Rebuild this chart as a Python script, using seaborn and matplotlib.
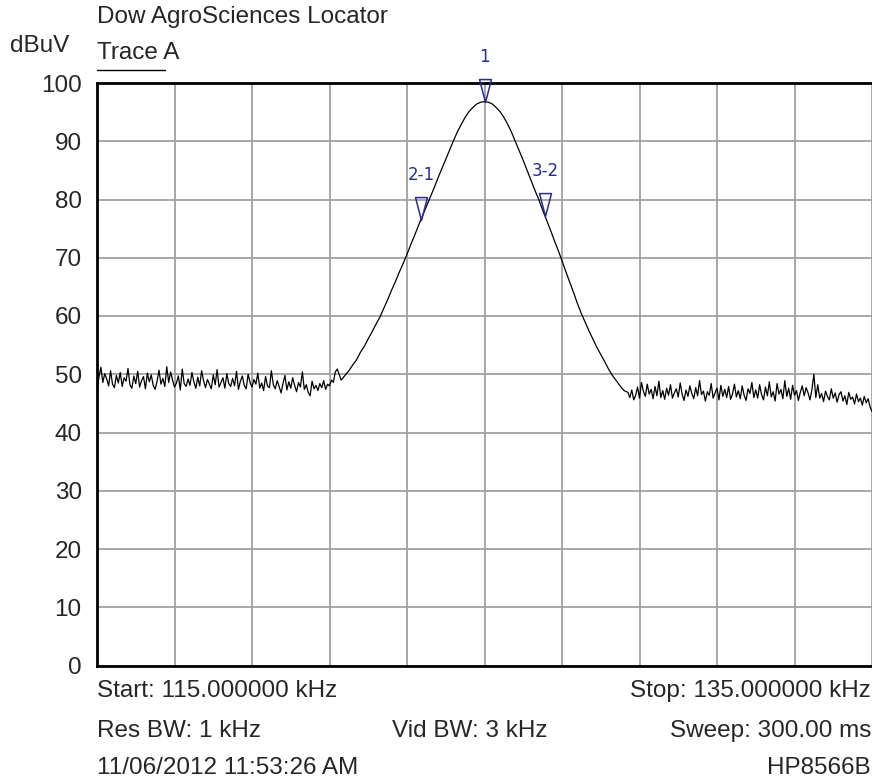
import numpy as np
import matplotlib
matplotlib.use("Agg")
import matplotlib.pyplot as plt
from matplotlib.lines import Line2D
from matplotlib.path import Path
import seaborn as sns

# sweep settings: the floors were read at 0.05 kHz, the peak at 0.1 kHz
seg_start = [115.0, 121.3, 128.7]
seg_stop = [121.2, 128.6, 135.0]

# trace A, dBuV
floor_left = [
    47.0, 49.5, 51.2, 48.6, 50.1, 49.2, 48.0, 50.6, 48.3, 47.7,
    49.8, 48.5, 50.3, 47.9, 49.4, 48.8, 51.0, 48.2, 47.6, 49.7,
    48.4, 50.5, 47.8, 48.9, 49.6, 47.5, 50.2, 48.7, 49.9, 48.1,
    47.4, 48.8, 50.7, 48.3, 49.3, 47.9, 51.3, 48.6, 50.4, 49.0,
    47.8, 48.5, 49.7, 47.3, 50.9, 48.4, 47.9, 49.2, 48.1, 50.3,
    48.7, 47.6, 49.5, 48.0, 50.6, 48.9, 47.7, 49.1, 48.3, 47.5,
    49.9, 48.2, 50.8, 47.8, 48.6, 49.4, 47.6, 50.1, 48.4, 47.9,
    49.3, 48.0, 50.5, 47.4, 48.8, 49.7, 48.1, 47.5, 50.0, 48.6,
    47.8, 49.1, 48.3, 50.2, 47.6, 48.5, 47.2, 49.6, 48.0, 47.7,
    50.6, 48.2, 47.5, 48.9, 47.9, 46.8, 48.4, 49.8, 47.3, 48.7,
    47.6, 49.4, 48.1, 47.0, 48.6, 47.8, 50.4, 47.4, 48.2, 46.9,
    46.3, 48.8, 47.5, 48.1, 47.2, 48.4, 47.7, 48.9, 47.4, 48.3,
    48.0, 49.0, 48.6, 50.4, 50.9,
]
peak = [
    49.0, 49.8, 50.6, 51.6, 52.5, 53.8, 54.8, 56.1, 57.3, 58.6,
    59.8, 61.3, 62.8, 64.4, 65.9, 67.5, 69.0, 70.6, 72.3, 73.9,
    75.6, 77.2, 78.8, 80.4, 82.0, 83.7, 85.3, 86.9, 88.5, 90.1,
    91.6, 92.9, 94.1, 95.1, 95.8, 96.4, 96.7, 96.8,
    96.7, 96.4, 95.8, 95.1, 94.1, 92.9, 91.5, 89.9, 88.3, 86.7,
    85.0, 83.3, 81.6, 80.0, 78.2, 76.5, 74.8, 73.0, 71.3, 69.5,
    67.6, 65.8, 64.0, 62.1, 60.4, 58.9, 57.4, 56.0, 54.6, 53.4,
    52.2, 50.9, 49.8, 48.9, 48.0, 47.2,
]
floor_right = [
    46.9, 46.0, 47.3, 45.6, 46.4, 47.8, 45.9, 48.6, 47.1, 46.2,
    48.3, 46.6, 47.4, 45.8, 47.9, 46.3, 48.8, 46.0, 47.2, 45.7,
    47.6, 46.4, 48.2, 45.9, 46.8, 47.5, 46.1, 48.5, 46.6, 45.5,
    47.3, 46.2, 48.0, 46.7, 45.8, 47.7, 46.3, 48.9, 46.5, 47.1,
    45.4, 47.0, 46.4, 48.4, 45.9, 46.8, 47.6, 45.6, 48.1, 46.2,
    47.4, 46.0, 47.9, 45.7, 46.6, 48.3, 46.1, 47.2, 45.8, 48.0,
    46.4, 45.5, 47.5, 46.7, 48.6, 46.0, 47.3, 45.9, 48.2, 46.5,
    45.6, 47.8, 46.3, 48.7, 46.1, 47.0, 45.4, 48.4, 46.6, 47.4,
    45.8, 48.9, 46.2, 47.6, 45.7, 48.1, 46.4, 47.2, 45.5, 46.9,
    48.0, 46.3, 47.7, 46.8, 45.6, 47.4, 50.0, 46.0, 48.2, 45.9,
    46.7, 45.3, 47.1, 46.2, 45.6, 47.5, 45.9, 46.8, 45.2, 46.5,
    47.0, 45.4, 46.3, 44.8, 46.9, 45.7, 46.1, 44.9, 46.6, 45.3,
    45.9, 44.7, 46.2, 45.1, 45.8, 44.4, 43.6,
]

marker_khz = [125.0, 123.36, 126.56]
marker_labels = ["1", "2-1", "3-2"]

segments = [floor_left, peak, floor_right]
freq = np.concatenate([np.linspace(a, b, len(s))
                       for a, b, s in zip(seg_start, seg_stop, segments)])
level = np.concatenate([np.array(s) for s in segments])

sns.set_style("white")
plt.rcParams["font.family"] = ["Liberation Sans", "DejaVu Sans"]
plt.rcParams["font.size"] = 17.5

fig = plt.figure(figsize=(8.72, 7.78), dpi=100)
ax = fig.add_axes([97 / 872, 112.5 / 778, 1 - 97 / 872, 582.5 / 778])

sns.lineplot(x=freq, y=level, ax=ax, color="black", lw=0.9)

ax.set_xlim(seg_start[0], seg_stop[-1])
ax.set_ylim(0, 100)
ax.set_xticks(np.arange(seg_start[0], seg_stop[-1] + 0.1, 2))
ax.set_yticks(np.arange(0, 101, 10))
ax.set_xticklabels([])
ax.grid(True, color="#a0a0a0", lw=1.3)
ax.tick_params(axis="both", length=0)
ax.tick_params(axis="y", pad=11, labelsize=17.5)
for side in ["left", "top", "bottom"]:
    ax.spines[side].set_color("black")
    ax.spines[side].set_linewidth(2)
ax.spines["right"].set_visible(False)

# marker triangles, tip on the trace
tri = Path([(0, 0), (-0.26, 1), (0.26, 1), (0, 0)],
           [Path.MOVETO, Path.LINETO, Path.LINETO, Path.CLOSEPOLY])
blue = "#2a2a96"
marker_lvl = np.interp(marker_khz, freq, level)
ax.plot(marker_khz, marker_lvl, ls="none", marker=tri, markersize=33,
        markerfacecolor="none", markeredgecolor=blue, markeredgewidth=1.1,
        clip_on=False, zorder=5)
for fx, fy, lab in zip(marker_khz, marker_lvl, marker_labels):
    ax.annotate(lab, (fx, fy), xytext=(0, 32), textcoords="offset points",
                ha="center", va="center", color=blue, fontsize=12,
                family=["Liberation Sans Narrow", "DejaVu Sans"],
                annotation_clip=False)

fig.text(97 / 872, 1 - 17 / 778, "Dow AgroSciences Locator", ha="left", va="center")
fig.text(10 / 872, 1 - 46 / 778, "dBuV", ha="left", va="center")
fig.text(97 / 872, 1 - 53 / 778, "Trace A", ha="left", va="center")
fig.add_artist(Line2D([97 / 872, 165 / 872], [1 - 70 / 778, 1 - 70 / 778],
                      color="black", lw=1))

fig.text(97 / 872, 1 - 691 / 778, "Start: 115.000000 kHz", ha="left", va="center")
fig.text(871 / 872, 1 - 691 / 778, "Stop: 135.000000 kHz", ha="right", va="center")
fig.text(97 / 872, 1 - 731 / 778, "Res BW: 1 kHz", ha="left", va="center")
fig.text(470 / 872, 1 - 731 / 778, "Vid BW: 3 kHz", ha="center", va="center")
fig.text(871 / 872, 1 - 731 / 778, "Sweep: 300.00 ms", ha="right", va="center")
fig.text(97 / 872, 1 - 768 / 778, "11/06/2012 11:53:26 AM", ha="left", va="center")
fig.text(871 / 872, 1 - 768 / 778, "HP8566B", ha="right", va="center")

fig.savefig("out.png", dpi=100)
